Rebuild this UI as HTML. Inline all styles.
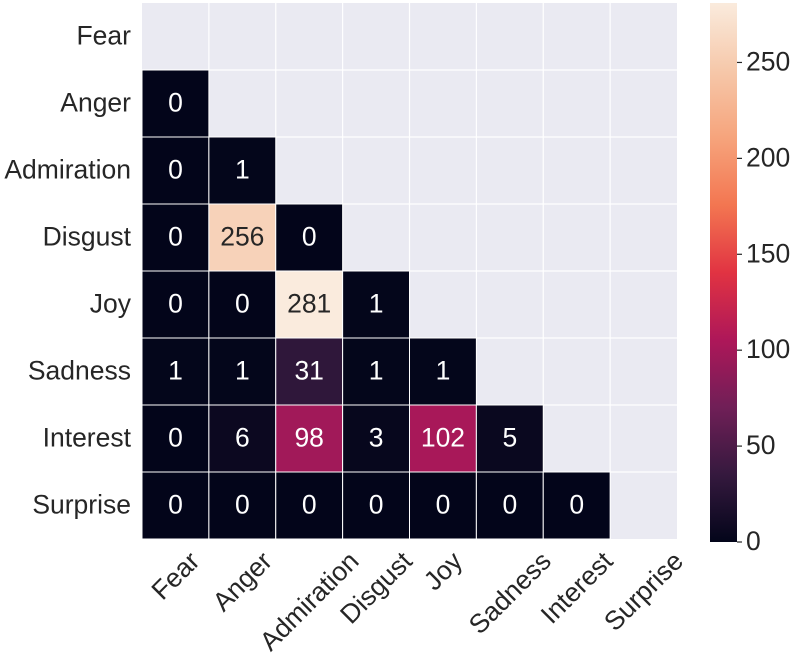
<!DOCTYPE html>
<html><head><meta charset="utf-8"><style>
html,body{margin:0;padding:0;background:#fff;}
svg{display:block;font-family:"Liberation Sans",Arial,sans-serif;}
</style></head><body>
<svg id="chart" width="792" height="660">
<defs>
<linearGradient id="cbgrad" x1="0" y1="1" x2="0" y2="0">
<stop offset="0" stop-color="#03051a"/>
<stop offset="0.125" stop-color="#35193e"/>
<stop offset="0.25" stop-color="#701f57"/>
<stop offset="0.375" stop-color="#ae1759"/>
<stop offset="0.5" stop-color="#e13342"/>
<stop offset="0.625" stop-color="#f37651"/>
<stop offset="0.75" stop-color="#f6a47c"/>
<stop offset="0.875" stop-color="#f6c8aa"/>
<stop offset="1" stop-color="#faebdd"/>
</linearGradient>
</defs>
<g id="cells"></g>
<g id="labels"></g>
<g id="cbar"></g>
</svg>
<script>
const categories = ["Fear","Anger","Admiration","Disgust","Joy","Sadness","Interest","Surprise"];
const row1 = [0];
const row2 = [0,1];
const row3 = [0,256,0];
const row4 = [0,0,281,1];
const row5 = [1,1,31,1,1];
const row6 = [0,6,98,3,102,5];
const row7 = [0,0,0,0,0,0,0];
const lowerValues = [[], row1, row2, row3, row4, row5, row6, row7];
const cbTicks = [0,50,100,150,200,250];
const vmin = 0, vmax = 281;

const NS = "http://www.w3.org/2000/svg";
const FS = 26.5;
const x0 = 142, x1 = 677, y0 = 3, y1 = 539;
const cw = (x1 - x0) / categories.length, ch = (y1 - y0) / categories.length;
const xPos = i => x0 + i * cw;
const yPos = i => y0 + i * ch;
const stops = [[0,"#03051a"],[0.125,"#35193e"],[0.25,"#701f57"],[0.375,"#ae1759"],[0.5,"#e13342"],[0.625,"#f37651"],[0.75,"#f6a47c"],[0.875,"#f6c8aa"],[1,"#faebdd"]];
function hex(h){return [1,3,5].map(k=>parseInt(h.substr(k,2),16));}
function color(v){
  let t = Math.max(0, Math.min(1, (v - vmin) / (vmax - vmin)));
  for (let k = 1; k < stops.length; k++) {
    if (t <= stops[k][0]) {
      const a = stops[k-1], b = stops[k], f = (t - a[0]) / (b[0] - a[0]);
      const ca = hex(a[1]), cb = hex(b[1]);
      return "rgb(" + ca.map((c,i)=>Math.round(c + (cb[i]-c)*f)).join(",") + ")";
    }
  }
  return stops[stops.length-1][1];
}
function el(tag, attrs, parent){const e=document.createElementNS(NS,tag);for(const k in attrs)e.setAttribute(k,attrs[k]);parent.appendChild(e);return e;}

const cells = document.getElementById("cells");
const bg = el("rect",{x:x0,y:y0,width:x1-x0,height:y1-y0,fill:"#eaeaf2"},cells);


for (let i = 1; i < categories.length; i++) {
  const gv = el("line",{x1:xPos(i),x2:xPos(i),y1:y0,y2:y1,stroke:"#fff","stroke-width":1.2},cells);
  
  
  const gh = el("line",{x1:x0,x2:x1,y1:yPos(i),y2:yPos(i),stroke:"#fff","stroke-width":1.2},cells);
  
  
}
lowerValues.forEach((row, r) => {
  row.forEach((v, c) => {
    const rc = el("rect",{x:xPos(c),y:yPos(r),width:cw,height:ch,fill:color(v),stroke:"#fff","stroke-width":1},cells);
    
    
    const tx = el("text",{x:xPos(c)+cw/2,y:yPos(r)+ch/2+8,"text-anchor":"middle","font-size":FS,fill:(v/vmax>0.6?"#262626":"#ffffff")},cells);
    tx.textContent = v;
    
    
  });
});

const labels = document.getElementById("labels");
categories.forEach((c, i) => {
  const yl = el("text",{x:131,y:yPos(i)+ch/2+8,"text-anchor":"end","font-size":FS,fill:"#262626"},labels);
  yl.textContent = c;
  
  
  const xl = el("text",{"text-anchor":"middle","dominant-baseline":"central","font-size":FS,fill:"#262626"},labels);
  xl.textContent = c;
  
  
  const L = xl.getComputedTextLength ? xl.getComputedTextLength() : c.length*13;
  const cx = xPos(i) + cw/2, cy = 547 + (L + FS) * 0.7071 / 2;
  xl.setAttribute("x", cx); xl.setAttribute("y", cy);
  xl.setAttribute("transform", "rotate(-45 " + cx + " " + cy + ")");
});

const cbar = document.getElementById("cbar");
const cbx = 710, cbw = 27, cbTop = 3, cbBot = 542;
const cbY = v => cbBot - (v - vmin) / (vmax - vmin) * (cbBot - cbTop);
const cr = el("rect",{x:cbx,y:cbTop,width:cbw,height:cbBot-cbTop,fill:"url(#cbgrad)"},cbar);


cbTicks.forEach(t => {
  const tl = el("line",{x1:cbx+cbw,x2:cbx+cbw+5,y1:cbY(t),y2:cbY(t),stroke:"#262626","stroke-width":1.2},cbar);
  
  
  const tt = el("text",{x:cbx+cbw+9,y:cbY(t)+8,"font-size":FS,fill:"#262626"},cbar);
  tt.textContent = t;
  
  
});
</script>
</body></html>
